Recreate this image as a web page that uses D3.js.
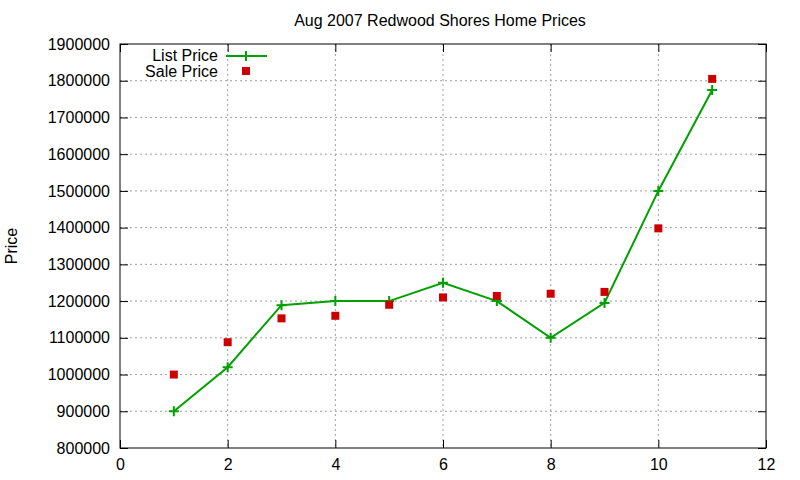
<!DOCTYPE html>
<html><head><meta charset="utf-8">
<script src="https://cdn.jsdelivr.net/npm/d3@7"></script>
<style>body{margin:0;background:#fff}text{font-family:"Liberation Sans",Arial,sans-serif;font-size:16px}</style>
</head><body><svg id="c" width="800" height="480"></svg>
<script>
const months = [1,2,3,4,5,6,7,8,9,10,11];
const listPrice = [900000,1020000,1189000,1200000,1200000,1250000,1200000,1100000,1195000,1500000,1775000];
const salePrice = [1000000,1088000,1153000,1160000,1190000,1210000,1214000,1220000,1225000,1398000,1805000];
const xTicks = [0,2,4,6,8,10,12];
const yTicks = d3.range(800000,1900001,100000);

const svg = d3.select("#c");
const L=120,R=766,T=44,B=448;
const x = d3.scaleLinear().domain([0,12]).range([L,R]);
const y = d3.scaleLinear().domain([800000,1900000]).range([B,T]);

svg.append("g").selectAll("line").data(xTicks.slice(1,-1)).join("line")
 .attr("x1",d=>x(d)).attr("x2",d=>x(d)).attr("y1",T).attr("y2",B)
 .attr("stroke","#a0a0a0").attr("stroke-dasharray","2,3");
svg.append("g").selectAll("line").data(yTicks.slice(1,-1)).join("line")
 .attr("x1",L).attr("x2",R).attr("y1",d=>y(d)).attr("y2",d=>y(d))
 .attr("stroke","#a0a0a0").attr("stroke-dasharray","2,3");

svg.append("g").attr("transform",`translate(0,${B})`)
 .call(d3.axisBottom(x).tickValues(xTicks).tickSize(-8).tickPadding(11).tickFormat(d3.format("d")))
 .call(g=>g.select(".domain").remove());
svg.append("g").attr("transform",`translate(0,${T})`)
 .call(d3.axisTop(x).tickValues(xTicks).tickSize(-8).tickFormat(""))
 .call(g=>g.select(".domain").remove());
svg.append("g").attr("transform",`translate(${L},0)`)
 .call(d3.axisLeft(y).tickValues(yTicks).tickSize(-8).tickPadding(10).tickFormat(d3.format("d")))
 .call(g=>g.select(".domain").remove());
svg.append("g").attr("transform",`translate(${R},0)`)
 .call(d3.axisRight(y).tickValues(yTicks).tickSize(-8).tickFormat(""))
 .call(g=>g.select(".domain").remove());
svg.selectAll(".tick text").attr("fill","#000").style("font-size","16px").style("font-family","Liberation Sans, Arial, sans-serif");
svg.selectAll(".tick line").attr("stroke","#000");
svg.append("rect").attr("x",L).attr("y",T).attr("width",R-L).attr("height",B-T).attr("fill","none").attr("stroke","#000");

svg.append("text").attr("x",440).attr("y",26).attr("text-anchor","middle").text("Aug 2007 Redwood Shores Home Prices");
svg.append("text").attr("transform","translate(17,246) rotate(-90)").attr("text-anchor","middle").text("Price");

const green="#00a000", red="#cc0000";
const pts = months.map((m,i)=>({m,l:listPrice[i],s:salePrice[i]}));
svg.append("path").datum(pts).attr("fill","none").attr("stroke",green).attr("stroke-width",2)
 .attr("d",d3.line().x(d=>x(d.m)).y(d=>y(d.l)));
const plus=(g,cx,cy)=>g.append("path").attr("d",`M${cx-5},${cy}H${cx+5}M${cx},${cy-5}V${cy+5}`).attr("stroke",green).attr("stroke-width",2);
pts.forEach(d=>plus(svg,x(d.m),y(d.l)));
svg.append("g").selectAll("rect").data(pts).join("rect")
 .attr("x",d=>x(d.m)-4).attr("y",d=>y(d.s)-4).attr("width",8).attr("height",8).attr("fill",red);

svg.append("text").attr("x",218).attr("y",61).attr("text-anchor","end").text("List Price");
svg.append("line").attr("x1",226).attr("x2",267).attr("y1",56).attr("y2",56).attr("stroke",green).attr("stroke-width",2);
plus(svg,246,56);
svg.append("text").attr("x",218).attr("y",77).attr("text-anchor","end").text("Sale Price");
svg.append("rect").attr("x",242).attr("y",67).attr("width",8).attr("height",8).attr("fill",red);
</script></body></html>
